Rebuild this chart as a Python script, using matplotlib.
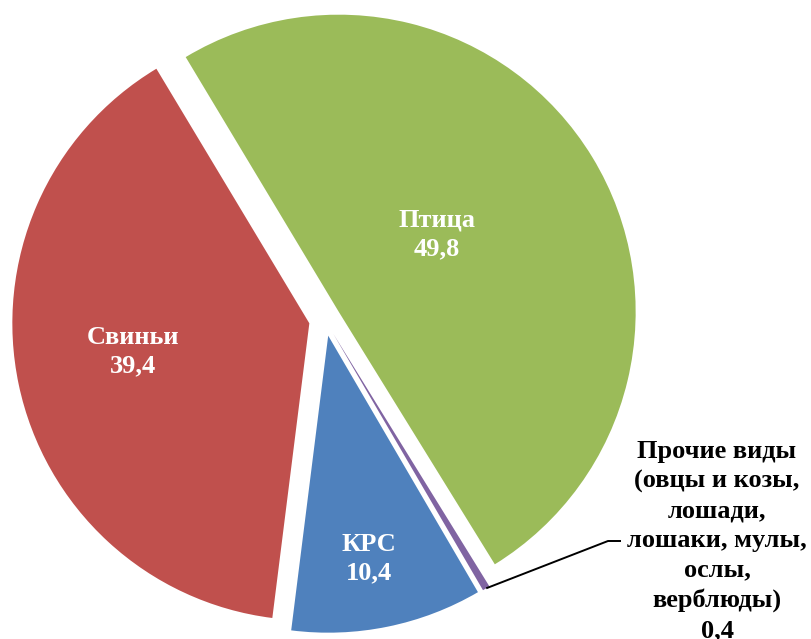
import numpy as np
import matplotlib
matplotlib.use("Agg")
import matplotlib.pyplot as plt

# ---- data ----
categories = ["Птица", "Прочие виды\n(овцы и козы,\nлошади,\nлошаки, мулы,\nослы,\nверблюды)", "КРС", "Свиньи"]
values = [49.8, 0.4, 10.4, 39.4]
colors = ["#9BBB59", "#8064A2", "#4F81BD", "#C0504D"]

W, H = 811, 639
fig = plt.figure(figsize=(W / 100, H / 100), dpi=100)
ax = fig.add_axes([0, 0, 1, 1])

def Y(y):
    return H - y

wedges, _ = ax.pie(values, colors=colors, startangle=121, counterclock=False,
                   explode=[16] * len(values), radius=297, center=(325, Y(320)),
                   wedgeprops=dict(linewidth=0))
ax.set_xlim(0, W)
ax.set_ylim(0, H)
ax.set_aspect("equal")
ax.axis("off")

def fmt(v):
    return f"{v:.1f}".replace(".", ",")

font = dict(family="Liberation Serif", fontweight="bold", fontsize=19)

# inside labels (label x, last-line baseline)
inside = {0: (437, 255), 2: (369, 579), 3: (133, 372)}
for i, (x, yb) in inside.items():
    ax.text(x, Y(yb), f"{categories[i]}\n{fmt(values[i])}", color="white",
            ha="center", va="baseline", multialignment="center",
            linespacing=1.29, **font)

# outside label for small slice (bottom line cut by the edge, as in the original)
i = 1
ax.text(717, Y(637), f"{categories[i]}\n{fmt(values[i])}", color="black",
        ha="center", va="baseline", multialignment="center",
        linespacing=1.37, **font)

w = wedges[i]
tm = np.deg2rad(0.5 * (w.theta1 + w.theta2))
sx = w.center[0] + w.r * np.cos(tm)
sy = w.center[1] + w.r * np.sin(tm)
ax.plot([sx, 608, 621], [sy, Y(541), Y(541)], color="black", lw=1.4,
        solid_capstyle="butt")

fig.savefig("out.png", dpi=100)
